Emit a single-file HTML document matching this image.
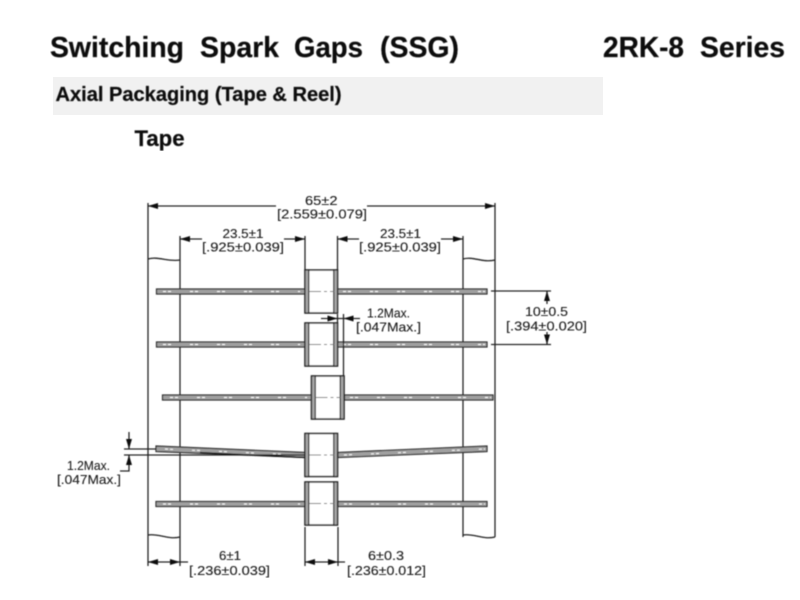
<!DOCTYPE html>
<html>
<head>
<meta charset="utf-8">
<style>
html,body{margin:0;padding:0;background:#fff;width:800px;height:600px;overflow:hidden}
svg{display:block}
.h{font-family:"Liberation Sans",sans-serif;font-weight:bold;fill:#111;stroke:#111;stroke-width:.25}
.d{font-family:"Liberation Sans",sans-serif;font-size:13px;fill:#1c1c1c;stroke:#1c1c1c;stroke-width:.12}
.l{stroke:#222;stroke-width:1.3;fill:none}
.a{fill:#111}
.lead{fill:#a0a0a0;stroke:#2c2c2c;stroke-width:1.2}
.dots{stroke:#fff;stroke-width:1;stroke-dasharray:3 2 3 19;fill:none}
.cl{stroke:#777;stroke-width:.9;stroke-dasharray:12 3 3 3;fill:none}
.cap{fill:#fff;stroke:#222;stroke-width:1.5}
.bar{fill:#a8a8a8;stroke:#222;stroke-width:1.2}
</style>
</head>
<body>
<svg width="800" height="600" viewBox="0 0 800 600" xmlns="http://www.w3.org/2000/svg">
<defs>
<filter id="b" x="0" y="0" width="100%" height="100%"><feGaussianBlur stdDeviation="0.45"/></filter>
<g id="capsule">
<rect class="cap" x="0" y="0" width="32.5" height="43"/>
<rect class="bar" x="0" y="0" width="3.8" height="43"/>
<rect class="bar" x="28.7" y="0" width="3.8" height="43"/>
<line class="cl" x1="4" y1="21.5" x2="29" y2="21.5"/>
</g>
</defs>

<rect x="53" y="77" width="550" height="38" fill="#f1f1f1"/>

<g filter="url(#b)">
<text class="h" x="50" y="57" font-size="29" textLength="134" lengthAdjust="spacingAndGlyphs">Switching</text>
<text class="h" x="200" y="57" font-size="29" textLength="79" lengthAdjust="spacingAndGlyphs">Spark</text>
<text class="h" x="294" y="57" font-size="29" textLength="69" lengthAdjust="spacingAndGlyphs">Gaps</text>
<text class="h" x="380" y="57" font-size="29" textLength="79" lengthAdjust="spacingAndGlyphs">(SSG)</text>
<text class="h" x="603" y="57" font-size="29" textLength="81" lengthAdjust="spacingAndGlyphs">2RK-8</text>
<text class="h" x="700" y="57" font-size="29" textLength="85" lengthAdjust="spacingAndGlyphs">Series</text>
<text class="h" x="55.5" y="101" font-size="20.500" textLength="286" lengthAdjust="spacingAndGlyphs">Axial Packaging (Tape &amp; Reel)</text>
<text class="h" x="134.5" y="146" font-size="22" textLength="50" lengthAdjust="spacingAndGlyphs">Tape</text>
</g>

<g filter="url(#b)">
<!-- tape edges -->
<path class="l" d="M148 203V566M180 236V566M463 236V537M495 203V537"/>
<path class="l" d="M148 259C158 256 168 262 180 260M463 259C473 256 483 263 495 260"/>
<path class="l" d="M148 535C158 533 168 540 180 537M463 535C473 533 483 540 495 537"/>

<!-- leads row 1 -->
<rect class="lead" x="156.500" y="289" width="148.500" height="5"/>
<rect class="lead" x="337.500" y="289" width="149.500" height="5"/>
<line class="dots" x1="163" y1="291.500" x2="300" y2="291.500"/>
<line class="dots" x1="343" y1="291.500" x2="485" y2="291.500"/>
<use href="#capsule" x="305" y="270"/>

<!-- row 2 -->
<rect class="lead" x="156.500" y="342" width="148.500" height="5"/>
<rect class="lead" x="337.500" y="342" width="149.500" height="5"/>
<line class="dots" x1="163" y1="344.500" x2="300" y2="344.500"/>
<line class="dots" x1="343" y1="344.500" x2="485" y2="344.500"/>
<use href="#capsule" x="305" y="323"/>

<!-- row 3 -->
<rect class="lead" x="162.500" y="395" width="149.500" height="5"/>
<rect class="lead" x="344.500" y="395" width="148.500" height="5"/>
<line class="dots" x1="170" y1="397.500" x2="307" y2="397.500"/>
<line class="dots" x1="350" y1="397.500" x2="491" y2="397.500"/>
<use href="#capsule" x="311.500" y="376"/>

<!-- row 4 bent -->
<polygon class="lead" points="156,446 305,452.500 305,457.500 156,451.500"/>
<polygon class="lead" points="338,452.500 487,446 487,451.500 338,457.500"/>
<line class="dots" x1="165" y1="449" x2="300" y2="455"/>
<line class="dots" x1="344" y1="455" x2="485" y2="449"/>
<line x1="200" y1="452.500" x2="305" y2="457.500" stroke="#111" stroke-width="1.2"/>
<use href="#capsule" x="305" y="433.500"/>

<!-- row 5 -->
<rect class="lead" x="156" y="501.500" width="149" height="5"/>
<rect class="lead" x="338" y="501.500" width="149" height="5"/>
<line class="dots" x1="163" y1="504" x2="300" y2="504"/>
<line class="dots" x1="344" y1="504" x2="485" y2="504"/>
<use href="#capsule" x="305" y="482"/>

<!-- 65 dim -->
<path class="l" d="M148 206H276M367 206H495"/>
<polygon class="a" points="148,206 158,203 158,209"/>
<polygon class="a" points="495,206 485,203 485,209"/>

<!-- 23.5 dims -->
<path class="l" d="M305 236V270M337.500 236V270"/>
<path class="l" d="M180 239H202M284 239H305M337.500 239H359M441 239H463"/>
<polygon class="a" points="180,239 190,236 190,242"/>
<polygon class="a" points="305,239 295,236 295,242"/>
<polygon class="a" points="337.500,239 347.500,236 347.500,242"/>
<polygon class="a" points="463,239 453,236 453,242"/>

<!-- 1.200 mid -->
<path class="l" d="M343.500 314V376M337.500 314V323M321 318.500H360"/>
<polygon class="a" points="337.500,318.500 327.500,315.500 327.500,321.500"/>
<polygon class="a" points="343.500,318.500 353.500,315.500 353.500,321.500"/>

<!-- 10 dim -->
<path class="l" d="M491 291H551M491 344.500H551M547 291V304M547 332V344.500"/>
<polygon class="a" points="547,291 544,301 550,301"/>
<polygon class="a" points="547,344.500 544,334.500 550,334.500"/>

<!-- 1.2 left -->
<path class="l" d="M124 449H156M124 455H305M129 432V449M129 455V471H120"/>
<polygon class="a" points="129,449 126,439 132,439"/>
<polygon class="a" points="129,455 126,465 132,465"/>

<!-- 6 dims -->
<path class="l" d="M148 562H188M305 527V566M338 527V566M305 562H345"/>
<polygon class="a" points="148,562 158,559 158,565"/>
<polygon class="a" points="180,562 170,559 170,565"/>
<polygon class="a" points="305,562 315,559 315,565"/>
<polygon class="a" points="338,562 328,559 328,565"/>

<!-- labels -->
<text class="d" x="305" y="205" textLength="32.500" lengthAdjust="spacingAndGlyphs">65±2</text>
<text class="d" x="277" y="218.500" textLength="90" lengthAdjust="spacingAndGlyphs">[2.559±0.079]</text>
<text class="d" x="222.500" y="238" textLength="41" lengthAdjust="spacingAndGlyphs">23.5±1</text>
<text class="d" x="202" y="251.500" textLength="82" lengthAdjust="spacingAndGlyphs">[.925±0.039]</text>
<text class="d" x="380" y="238" textLength="41" lengthAdjust="spacingAndGlyphs">23.5±1</text>
<text class="d" x="359" y="251.500" textLength="82" lengthAdjust="spacingAndGlyphs">[.925±0.039]</text>
<text class="d" x="367" y="317.500" textLength="43" lengthAdjust="spacingAndGlyphs">1.2Max.</text>
<text class="d" x="356" y="331.500" textLength="65" lengthAdjust="spacingAndGlyphs">[.047Max.]</text>
<text class="d" x="525" y="316" textLength="43" lengthAdjust="spacingAndGlyphs">10±0.5</text>
<text class="d" x="506" y="330.500" textLength="81" lengthAdjust="spacingAndGlyphs">[.394±0.020]</text>
<text class="d" x="67" y="470" textLength="43" lengthAdjust="spacingAndGlyphs">1.2Max.</text>
<text class="d" x="57" y="484" textLength="64" lengthAdjust="spacingAndGlyphs">[.047Max.]</text>
<text class="d" x="219" y="560" textLength="22" lengthAdjust="spacingAndGlyphs">6±1</text>
<text class="d" x="189" y="575" textLength="81" lengthAdjust="spacingAndGlyphs">[.236±0.039]</text>
<text class="d" x="368" y="560" textLength="36" lengthAdjust="spacingAndGlyphs">6±0.3</text>
<text class="d" x="347" y="575" textLength="79" lengthAdjust="spacingAndGlyphs">[.236±0.012]</text>
</g>
</svg>
</body>
</html>
